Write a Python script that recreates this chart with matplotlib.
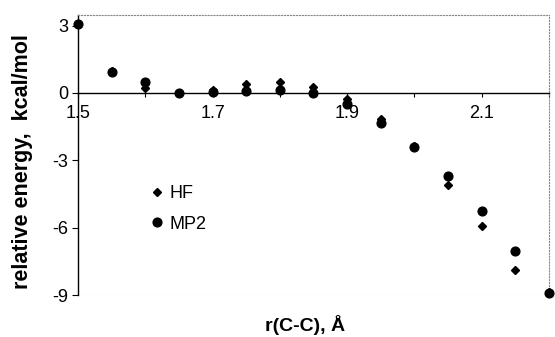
import numpy as np
import matplotlib.pyplot as plt

plt.rcParams['font.family'] = ['Liberation Sans', 'DejaVu Sans']

r_cc = [1.50, 1.55, 1.60, 1.65, 1.70, 1.75, 1.80, 1.85, 1.90, 1.95, 2.00, 2.05, 2.10, 2.15, 2.20]
hf = [3.08, 0.98, 0.20, 0.00, 0.12, 0.40, 0.50, 0.28, -0.27, -1.18, -2.38, -4.08, -5.92, -7.88, -8.88]
mp2 = [3.08, 0.93, 0.50, 0.00, 0.02, 0.10, 0.14, -0.02, -0.48, -1.32, -2.40, -3.72, -5.28, -7.02, -8.90]

x_ticks = [1.5, 1.6, 1.7, 1.8, 1.9, 2.0, 2.1, 2.2]
x_labels = ['1.5', '', '1.7', '', '1.9', '', '2.1', '']
y_ticks = [-9, -6, -3, 0, 3]


def main():
    fig = plt.figure(figsize=(5.55, 3.37), dpi=100)
    ax = fig.add_axes([0.1405, 0.1246, 0.8485, 0.831])

    ax.plot(r_cc, mp2, 'o', color='black', markersize=6.3, label='MP2', clip_on=False, zorder=3)
    ax.plot(r_cc, hf, 'D', color='black', markersize=4.5, label='HF', clip_on=False, zorder=4)

    ax.set_xlim(1.5, 2.2)
    ax.set_ylim(-9, 3.47)

    ax.spines['bottom'].set_position(('data', 0))
    ax.spines['bottom'].set_linewidth(1.0)
    ax.spines['left'].set_linewidth(1.0)
    for s in ['top', 'right']:
        ax.spines[s].set_linestyle(':')
        ax.spines[s].set_color('#888888')
        ax.spines[s].set_linewidth(0.8)
    ax.axhline(-9, color='#888888', linestyle=':', linewidth=0.8)

    ax.set_xticks(x_ticks)
    ax.set_xticklabels(x_labels)
    ax.set_yticks(y_ticks)
    ax.set_yticklabels([str(v) for v in y_ticks])
    ax.tick_params(axis='x', direction='out', length=3, labelsize=13, pad=6)
    ax.tick_params(axis='y', direction='out', length=4, labelsize=13, pad=3)

    fig.text(0.04, 0.52, 'relative energy,  kcal/mol', rotation=90, ha='center', va='center',
             fontsize=15.5, fontweight='bold')
    fig.text(0.55, 0.035, 'r(C-C), Å', ha='center', va='center', fontsize=14, fontweight='bold')

    handles, labels = ax.get_legend_handles_labels()
    ax.legend(handles[::-1], labels[::-1], loc='upper left', bbox_to_anchor=(0.11, 0.45),
              frameon=False, fontsize=13, handletextpad=0.1, handlelength=1.2,
              labelspacing=0.75)

    fig.savefig('out.png', dpi=100)


if __name__ == "__main__":
    main()
